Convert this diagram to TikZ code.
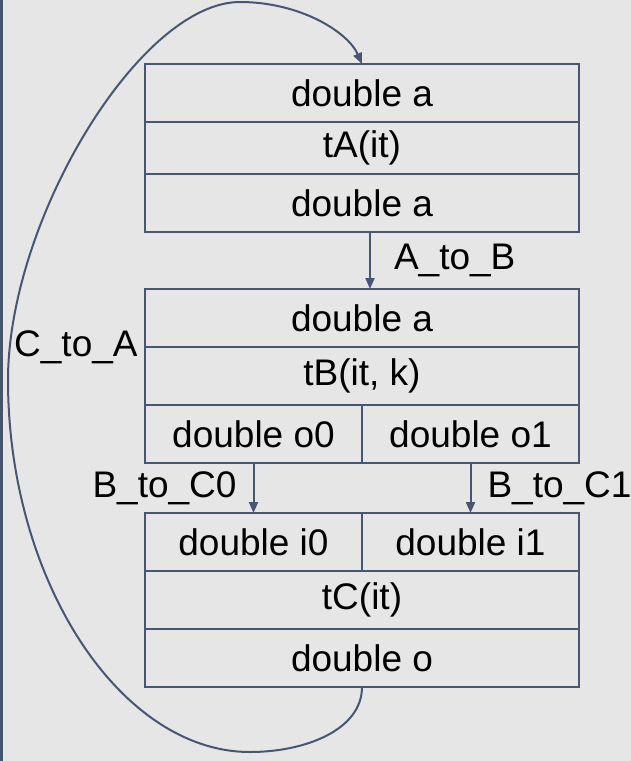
\documentclass[tikz,border=0pt]{standalone}
\usepackage{fontspec}
\setmainfont{Liberation Sans}
\usetikzlibrary{arrows.meta,positioning}
\definecolor{slate}{HTML}{475672}
\definecolor{canvas}{HTML}{E6E6E6}
\definecolor{sidebar}{HTML}{44546A}

\begin{document}
\begin{tikzpicture}[
  x=0.5pt,y=-0.5pt,
  cell/.style={draw=slate,line width=1pt,minimum width=217pt,minimum height=29pt,inner sep=0pt,outer sep=0pt,font=\fontsize{18.5}{22}\selectfont},
  half/.style={cell,minimum width=108.5pt},
  callrow/.style={cell,minimum height=26pt},
  lbl/.style={inner sep=0pt,font=\fontsize{18.5}{22}\selectfont},
  arr/.style={-{Triangle[length=5.5pt,width=4.5pt]},line width=1pt,draw=slate}
]
\useasboundingbox (0,0) rectangle (631,761);
\fill[canvas] (0,0) rectangle (631,761);
\fill[sidebar] (0,0) rectangle (3,761);

\node[cell] (a1) at (362,93) {double a};
\node[callrow,below=0pt of a1] (a2) {tA(it)};
\node[cell,below=0pt of a2] (a3) {double a};

\node[cell,below=28.5pt of a3] (b1) {double a};
\node[cell,below=0pt of b1] (b2) {tB(it, k)};
\node[half,anchor=north west] (b3l) at (b2.south west) {double o0};
\node[half,anchor=north east] (b3r) at (b2.south east) {double o1};

\node[half,below=25pt of b3l] (c1l) {double i0};
\node[half,right=0pt of c1l] (c1r) {double i1};
\node[cell,anchor=north west] (c2) at (c1l.south west) {tC(it)};
\node[cell,below=0pt of c2] (c3) {double o};

\draw[arr] ([xshift=4pt]a3.south) -- node[lbl,right=11.5pt] (lab) {A\_to\_B} ([xshift=4pt]b1.north);
\draw[arr] (b3l) -- node[lbl,left=8pt] (lbc0) {B\_to\_C0} (c1l);
\draw[arr] (b3r) -- node[lbl,right=8pt] (lbc1) {B\_to\_C1} (c1r);
\node[lbl,left=3.5pt of b1.south west] (lca) {C\_to\_A};

\draw[arr] (c3.south) .. controls (362,730) and (305,752) .. (250,752)
  .. controls (120,752) and (8,580) .. (8,380)
  .. controls (8,220) and (140,2) .. (240,2)
  .. controls (300,2) and (348,32) .. (a1.north);
\end{tikzpicture}
\end{document}
